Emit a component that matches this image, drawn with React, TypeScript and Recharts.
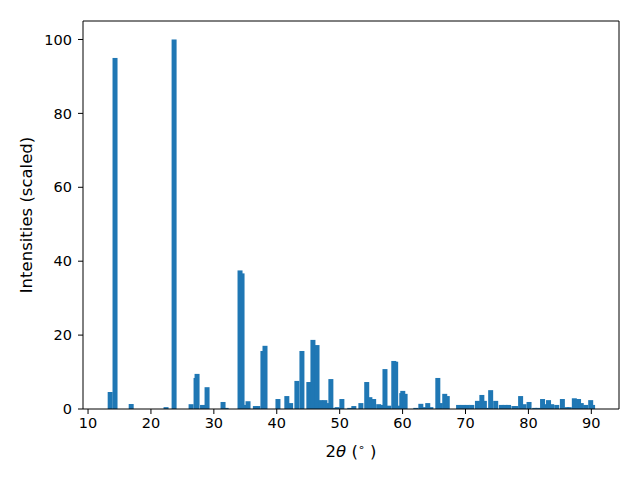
import React from 'react';
import { Bar, BarChart, ReferenceLine, XAxis, YAxis } from 'recharts';

// peak positions (2theta, degrees) and scaled intensities
const twoTheta = [
  13.52, 14.29, 16.86, 22.4, 23.68, 26.38, 27.17, 27.33, 28.2, 28.92,
  31.46, 31.95, 34.16, 34.48, 34.8, 35.43, 36.6, 37.0, 37.8, 38.13,
  40.19, 41.6, 42.2, 43.2, 44.0, 45.1, 45.75, 46.4, 47.0, 47.65,
  48.1, 48.6, 49.2, 49.6, 50.35, 51.6, 52.25, 53.37, 54.3, 54.8,
  55.4, 56.2, 56.5, 57.2, 57.8, 58.6, 58.9, 59.4, 59.87, 60.03,
  60.4, 62.1, 62.9, 63.4, 64.0, 64.5, 65.6, 66.0, 66.7, 67.1,
  68.9, 69.6, 70.3, 71.0, 71.9, 72.6, 73.0, 73.3, 74.0, 74.8,
  75.7, 76.3, 76.85, 77.7, 78.0, 78.76, 79.3, 80.1, 81.0, 81.5,
  82.25, 82.7, 83.2, 83.7, 84.5, 85.4, 86.1, 86.5, 87.3, 87.97,
  88.4, 89.1, 89.9, 90.2,
];
const intensity = [
  4.6, 95, 1.35, 0.5, 100, 1.3, 8.4, 9.5, 1.1, 5.9,
  1.9, 0.3, 37.5, 36.7, 1.1, 2.1, 0.8, 0.8, 15.7, 17.1,
  2.7, 3.5, 1.6, 7.6, 15.7, 7.3, 18.7, 17.3, 2.4, 2.4,
  1.6, 8.1, 0.3, 0.5, 2.7, 0.3, 0.8, 1.6, 7.3, 3.2,
  2.7, 1.3, 1.1, 10.8, 0.9, 13.0, 12.8, 0.9, 4.3, 4.9,
  4.1, 0.3, 1.4, 0.5, 1.6, 0.5, 8.4, 1.6, 4.1, 3.5,
  1.1, 1.1, 1.1, 1.1, 2.2, 3.8, 2.2, 0.3, 5.1, 2.2,
  1.1, 1.1, 1.1, 0.8, 0.8, 3.5, 1.3, 1.9, 0.3, 0.3,
  2.7, 1.3, 2.4, 1.3, 1.1, 2.7, 0.5, 0.5, 2.9, 2.7,
  1.6, 1.1, 2.4, 1.1,
];
const xTicks = [10, 20, 30, 40, 50, 60, 70, 80, 90];
const yTicks = [0, 20, 40, 60, 80, 100];

const data = twoTheta.map((t, i) => ({ t, v: intensity[i] }));

const font = "'DejaVu Sans', sans-serif";
const tickStyle = { fill: '#000', fontSize: 14.5, fontFamily: font };
const BAR_W = 5; // ~0.8 deg wide at this scale

// recharts shrinks bars to the tiny gap between peaks, so widen them around their centre
function PeakBar(props: any) {
  const { x, y, width, height, fill } = props;
  if (!height || height <= 0) return null;
  const cx = x + width / 2;
  return <rect x={cx - BAR_W / 2} y={y} width={BAR_W} height={height} fill={fill} />;
}

function XLabel(props: any) {
  const { x, y, width } = props.viewBox;
  return (
    <text x={x + width / 2} y={y + 48} textAnchor='middle' fontSize={16.5} fontFamily={font} fill='#000'>
      2<tspan fontStyle='italic'>θ</tspan> (<tspan fontSize={11} dy={-6}>∘</tspan>
      <tspan dy={6}> )</tspan>
    </text>
  );
}

function YLabel(props: any) {
  const { y, height } = props.viewBox;
  const cy = y + height / 2;
  return (
    <text x={32} y={cy} transform={`rotate(-90, 32, ${cy})`} textAnchor='middle' fontSize={16.5} fontFamily={font} fill='#000'>
      Intensities (scaled)
    </text>
  );
}

export default function App() {
  return (
    <div style={{ position: 'absolute', left: 0, top: 0, width: 640, height: 480, background: '#fff' }}>
      <BarChart width={640} height={480} data={data} margin={{ top: 21, right: 21, left: 0, bottom: 0 }}>
        <XAxis
          dataKey='t'
          type='number'
          domain={[9.2, 94.4]}
          ticks={xTicks}
          height={71}
          tickSize={5}
          tickMargin={4}
          tick={tickStyle}
          stroke='#000'
          allowDataOverflow
          label={<XLabel />}
        />
        <YAxis
          type='number'
          domain={[0, 105]}
          ticks={yTicks}
          width={83}
          tickSize={5}
          tickMargin={6}
          tick={tickStyle}
          stroke='#000'
          allowDataOverflow
          label={<YLabel />}
        />
        <Bar dataKey='v' fill='#1f77b4' shape={<PeakBar />} isAnimationActive={false} />
        <ReferenceLine y={105} stroke='#000' ifOverflow='visible' />
        <ReferenceLine x={94.4} stroke='#000' ifOverflow='visible' />
      </BarChart>
    </div>
  );
}
